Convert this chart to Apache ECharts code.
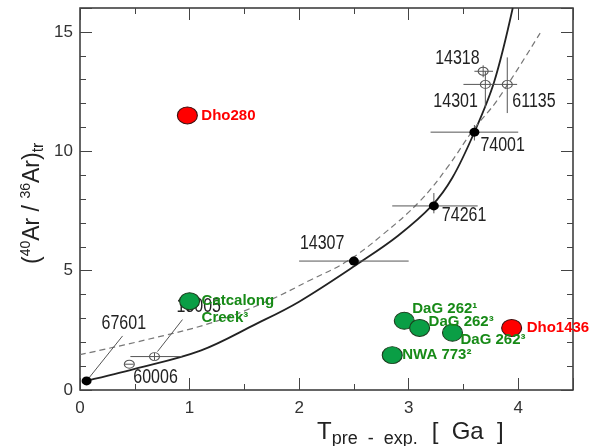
<!DOCTYPE html>
<html><head><meta charset="utf-8">
<script src="https://cdn.jsdelivr.net/npm/echarts@6/dist/echarts.min.js"></script>
<style>html,body{margin:0;padding:0;background:#fff}#c{width:593px;height:446px}</style>
</head><body><div id="c"></div>
<script>
// ---- data ----
const xTicks = [0, 1, 2, 3, 4];
const yTicks = [0, 5, 10, 15];

// model curves
const solidX = [0.06, 0.5, 1.1, 1.6, 2.0, 2.56, 2.9, 3.21, 3.4, 3.6, 3.78, 3.95];
const solidY = [0.38, 0.88, 1.65, 2.75, 3.7, 5.36, 6.45, 7.71, 8.9, 10.8, 12.9, 16.0];
const dashX = [0, 0.6, 1.19, 1.7, 2.1, 2.44, 2.76, 3.1, 3.35, 3.59, 3.81, 4.2];
const dashY = [1.48, 2.1, 2.8, 3.7, 4.6, 5.4, 6.5, 7.9, 9.3, 10.9, 12.15, 14.95];

// lunar samples, filled
const blackNames = ['67601', '14307', '74261', '74001'];
const blackX = [0.06, 2.50, 3.23, 3.60];
const blackY = [0.38, 5.40, 7.71, 10.80];
const blackXlo = [0.06, 2.00, 2.85, 3.20];
const blackXhi = [0.06, 3.00, 3.63, 4.00];
const blackYlo = [0.38, 5.40, 7.40, 10.45];
const blackYhi = [0.38, 5.40, 8.25, 11.10];

// lunar samples, open
const openNames = ['60006', '15005', '14318', '14301', '61135'];
const openX = [0.45, 0.68, 3.68, 3.70, 3.90];
const openY = [1.08, 1.40, 13.35, 12.80, 12.80];
const openXlo = [0.41, 0.46, 3.60, 3.50, 3.78];
const openXhi = [0.49, 0.93, 3.77, 3.80, 3.99];
const openYlo = [1.08, 1.25, 13.10, 11.85, 11.60];
const openYhi = [1.08, 1.55, 13.60, 13.35, 13.93];

// meteorites
const greenNames = ['Catcalong\nCreek³', 'DaG 262¹', 'DaG 262³', 'DaG 262³', 'NWA 773²'];
const greenX = [1.00, 2.96, 3.10, 3.40, 2.85];
const greenY = [3.72, 2.90, 2.60, 2.40, 1.46];
const redNames = ['Dho280', 'Dho1436'];
const redX = [0.98, 3.94];
const redY = [11.5, 2.6];

// ---- layout (pixel offsets of labels from their points) ----
const labelOffsets = {
  '67601': [15, -57], '14307': [-54, -18], '74261': [8, 10], '74001': [6, 13],
  '60006': [4, 13], '15005': [22, -50], '14318': [-48, -13], '14301': [-52, 17], '61135': [5, 17]
};
const leaders = { '67601': [0, 0, 36, -45], '15005': [3, -5, 28, -37] };
const greenOffsets = [[12, 8.5], [8, -12], [9, -6], [8, 7], [10, 0]];
const redOffsets = [[14, 0], [15, 0]];

const SANS = '"Liberation Sans", Arial, sans-serif';

const barData = blackX.map((x, i) => [x, blackY[i], blackXlo[i], blackXhi[i], blackYlo[i], blackYhi[i]])
  .concat(openX.map((x, i) => [x, openY[i], openXlo[i], openXhi[i], openYlo[i], openYhi[i]]));
const lunarNames = blackNames.concat(openNames);
const lunarPts = blackX.map((x, i) => [x, blackY[i]]).concat(openX.map((x, i) => [x, openY[i]]));
const leaderData = [];
lunarNames.forEach((n, i) => { if (leaders[n]) leaderData.push(lunarPts[i].concat(leaders[n])); });

const greenData = greenNames.map((n, i) => ({
  name: n, value: [greenX[i], greenY[i]],
  label: { show: true, position: 'inside', align: 'left', verticalAlign: 'middle',
    offset: greenOffsets[i], formatter: n, color: '#178a17', fontFamily: SANS,
    fontWeight: 'bold', fontSize: 15, lineHeight: 17 }
}));
const redData = redNames.map((n, i) => ({
  name: n, value: [redX[i], redY[i]],
  label: { show: true, position: 'inside', align: 'left', verticalAlign: 'middle',
    offset: redOffsets[i], formatter: n, color: '#ff0000', fontFamily: SANS,
    fontWeight: 'bold', fontSize: 15 }
}));

// ---- composed axis titles ----
const ctx = document.createElement('canvas').getContext('2d');
function pieces(list) {
  let x = 0; const out = [];
  list.forEach(p => {
    const f = p.size + 'px ' + SANS;
    ctx.font = f;
    out.push({ type: 'text', x: x, y: p.dy || 0,
      style: { text: p.t, font: f, fill: '#222', textVerticalAlign: 'middle' } });
    x += ctx.measureText(p.t).width + (p.gap || 0);
  });
  return out;
}
const yTitle = pieces([
  { t: '(', size: 23 }, { t: '40', size: 14, dy: -7 }, { t: 'Ar / ', size: 23 },
  { t: '36', size: 14, dy: -7 }, { t: 'Ar)', size: 23 }, { t: 'tr', size: 16, dy: 6 }
]);
const xTitle = pieces([
  { t: 'T', size: 24 }, { t: 'pre  -  exp.', size: 18, dy: 7, gap: 14 }, { t: '[  Ga  ]', size: 24 }
]);

const tickLine = { color: '#444', width: 1 };
function xAx(pos, interval, len, labels) {
  return { type: 'value', min: 0, max: 4.5, interval: interval, position: pos,
    axisLine: { show: false, onZero: false },
    axisTick: { show: true, inside: true, length: len, lineStyle: tickLine },
    splitLine: { show: false },
    axisLabel: { show: labels, margin: 10, color: '#333', fontFamily: SANS, fontSize: 17,
      formatter: v => (xTicks.indexOf(v) >= 0 ? String(v) : '') } };
}
function yAx(pos, interval, len, labels) {
  return { type: 'value', min: 0, max: 16, interval: interval, position: pos,
    axisLine: { show: false, onZero: false },
    axisTick: { show: true, inside: true, length: len, lineStyle: tickLine },
    splitLine: { show: false },
    axisLabel: { show: labels, margin: 7, color: '#333', fontFamily: SANS, fontSize: 17,
      formatter: v => (yTicks.indexOf(v) >= 0 ? String(v) : '') } };
}

const chart = echarts.init(document.getElementById('c'), null, { renderer: 'canvas' });
chart.setOption({
  animation: false,
  backgroundColor: '#fff',
  grid: { left: 80, right: 20, top: 8, bottom: 56, show: true, borderColor: '#333', borderWidth: 1.5, backgroundColor: 'transparent' },
  xAxis: [xAx('bottom', 0.5, 6, false), xAx('bottom', 1, 12, true), xAx('top', 0.5, 6, false), xAx('top', 1, 12, false)],
  yAxis: [yAx('left', 1, 6, false), yAx('left', 5, 12, true), yAx('right', 1, 6, false), yAx('right', 5, 12, false)],
  graphic: [
    { type: 'group', x: 317, y: 432, children: xTitle },
    { type: 'group', x: 33, y: 264, rotation: Math.PI / 2, children: yTitle }
  ],
  series: [
    { type: 'line', data: solidX.map((x, i) => [x, solidY[i]]), smooth: 0.35, symbol: 'none',
      lineStyle: { color: '#222', width: 1.8 }, z: 2, silent: true },
    { type: 'line', data: dashX.map((x, i) => [x, dashY[i]]), smooth: 0.4, symbol: 'none',
      lineStyle: { color: '#777', width: 1.2, type: [6, 4] }, z: 2, silent: true },
    { type: 'custom', z: 3, silent: true, data: barData,
      renderItem: (params, api) => {
        const l = api.coord([api.value(2), api.value(1)]);
        const r = api.coord([api.value(3), api.value(1)]);
        const lo = api.coord([api.value(0), api.value(4)]);
        const hi = api.coord([api.value(0), api.value(5)]);
        const st = { stroke: '#555', lineWidth: 1 };
        return { type: 'group', children: [
          { type: 'line', shape: { x1: l[0], y1: l[1], x2: r[0], y2: r[1] }, style: st },
          { type: 'line', shape: { x1: lo[0], y1: lo[1], x2: hi[0], y2: hi[1] }, style: st } ] };
      } },
    { type: 'custom', z: 3, silent: true, data: leaderData,
      renderItem: (params, api) => {
        const c = api.coord([api.value(0), api.value(1)]);
        return { type: 'line', shape: { x1: c[0] + api.value(2), y1: c[1] + api.value(3),
          x2: c[0] + api.value(4), y2: c[1] + api.value(5) }, style: { stroke: '#555', lineWidth: 1 } };
      } },
    { type: 'custom', z: 3, silent: true, data: lunarPts,
      renderItem: (params, api) => {
        const c = api.coord([api.value(0), api.value(1)]);
        const n = lunarNames[params.dataIndex];
        const off = labelOffsets[n];
        return { type: 'text', x: c[0] + off[0], y: c[1] + off[1], scaleX: 0.8,
          style: { text: n, font: '20px ' + SANS, fill: '#222', textAlign: 'left', textVerticalAlign: 'middle' } };
      } },
    { type: 'scatter', data: blackX.map((x, i) => [x, blackY[i]]), symbol: 'circle', symbolSize: [10, 9], z: 4,
      itemStyle: { color: '#000', opacity: 1 }, emphasis: { disabled: true } },
    { type: 'scatter', data: openX.map((x, i) => [x, openY[i]]), symbol: 'circle', symbolSize: [10, 8], z: 4,
      itemStyle: { color: 'rgba(0,0,0,0)', borderColor: '#555', borderWidth: 1, opacity: 1 }, emphasis: { disabled: true } },
    { type: 'scatter', data: greenData, symbol: 'circle', symbolSize: [20, 17], z: 6,
      itemStyle: { color: '#0a9e45', borderColor: '#1c3a1c', borderWidth: 1, opacity: 1 }, emphasis: { disabled: true } },
    { type: 'scatter', data: redData, symbol: 'circle', symbolSize: [20, 17], z: 6,
      itemStyle: { color: '#ff0000', borderColor: '#3a1010', borderWidth: 1, opacity: 1 }, emphasis: { disabled: true } }
  ]
});
</script></body></html>
